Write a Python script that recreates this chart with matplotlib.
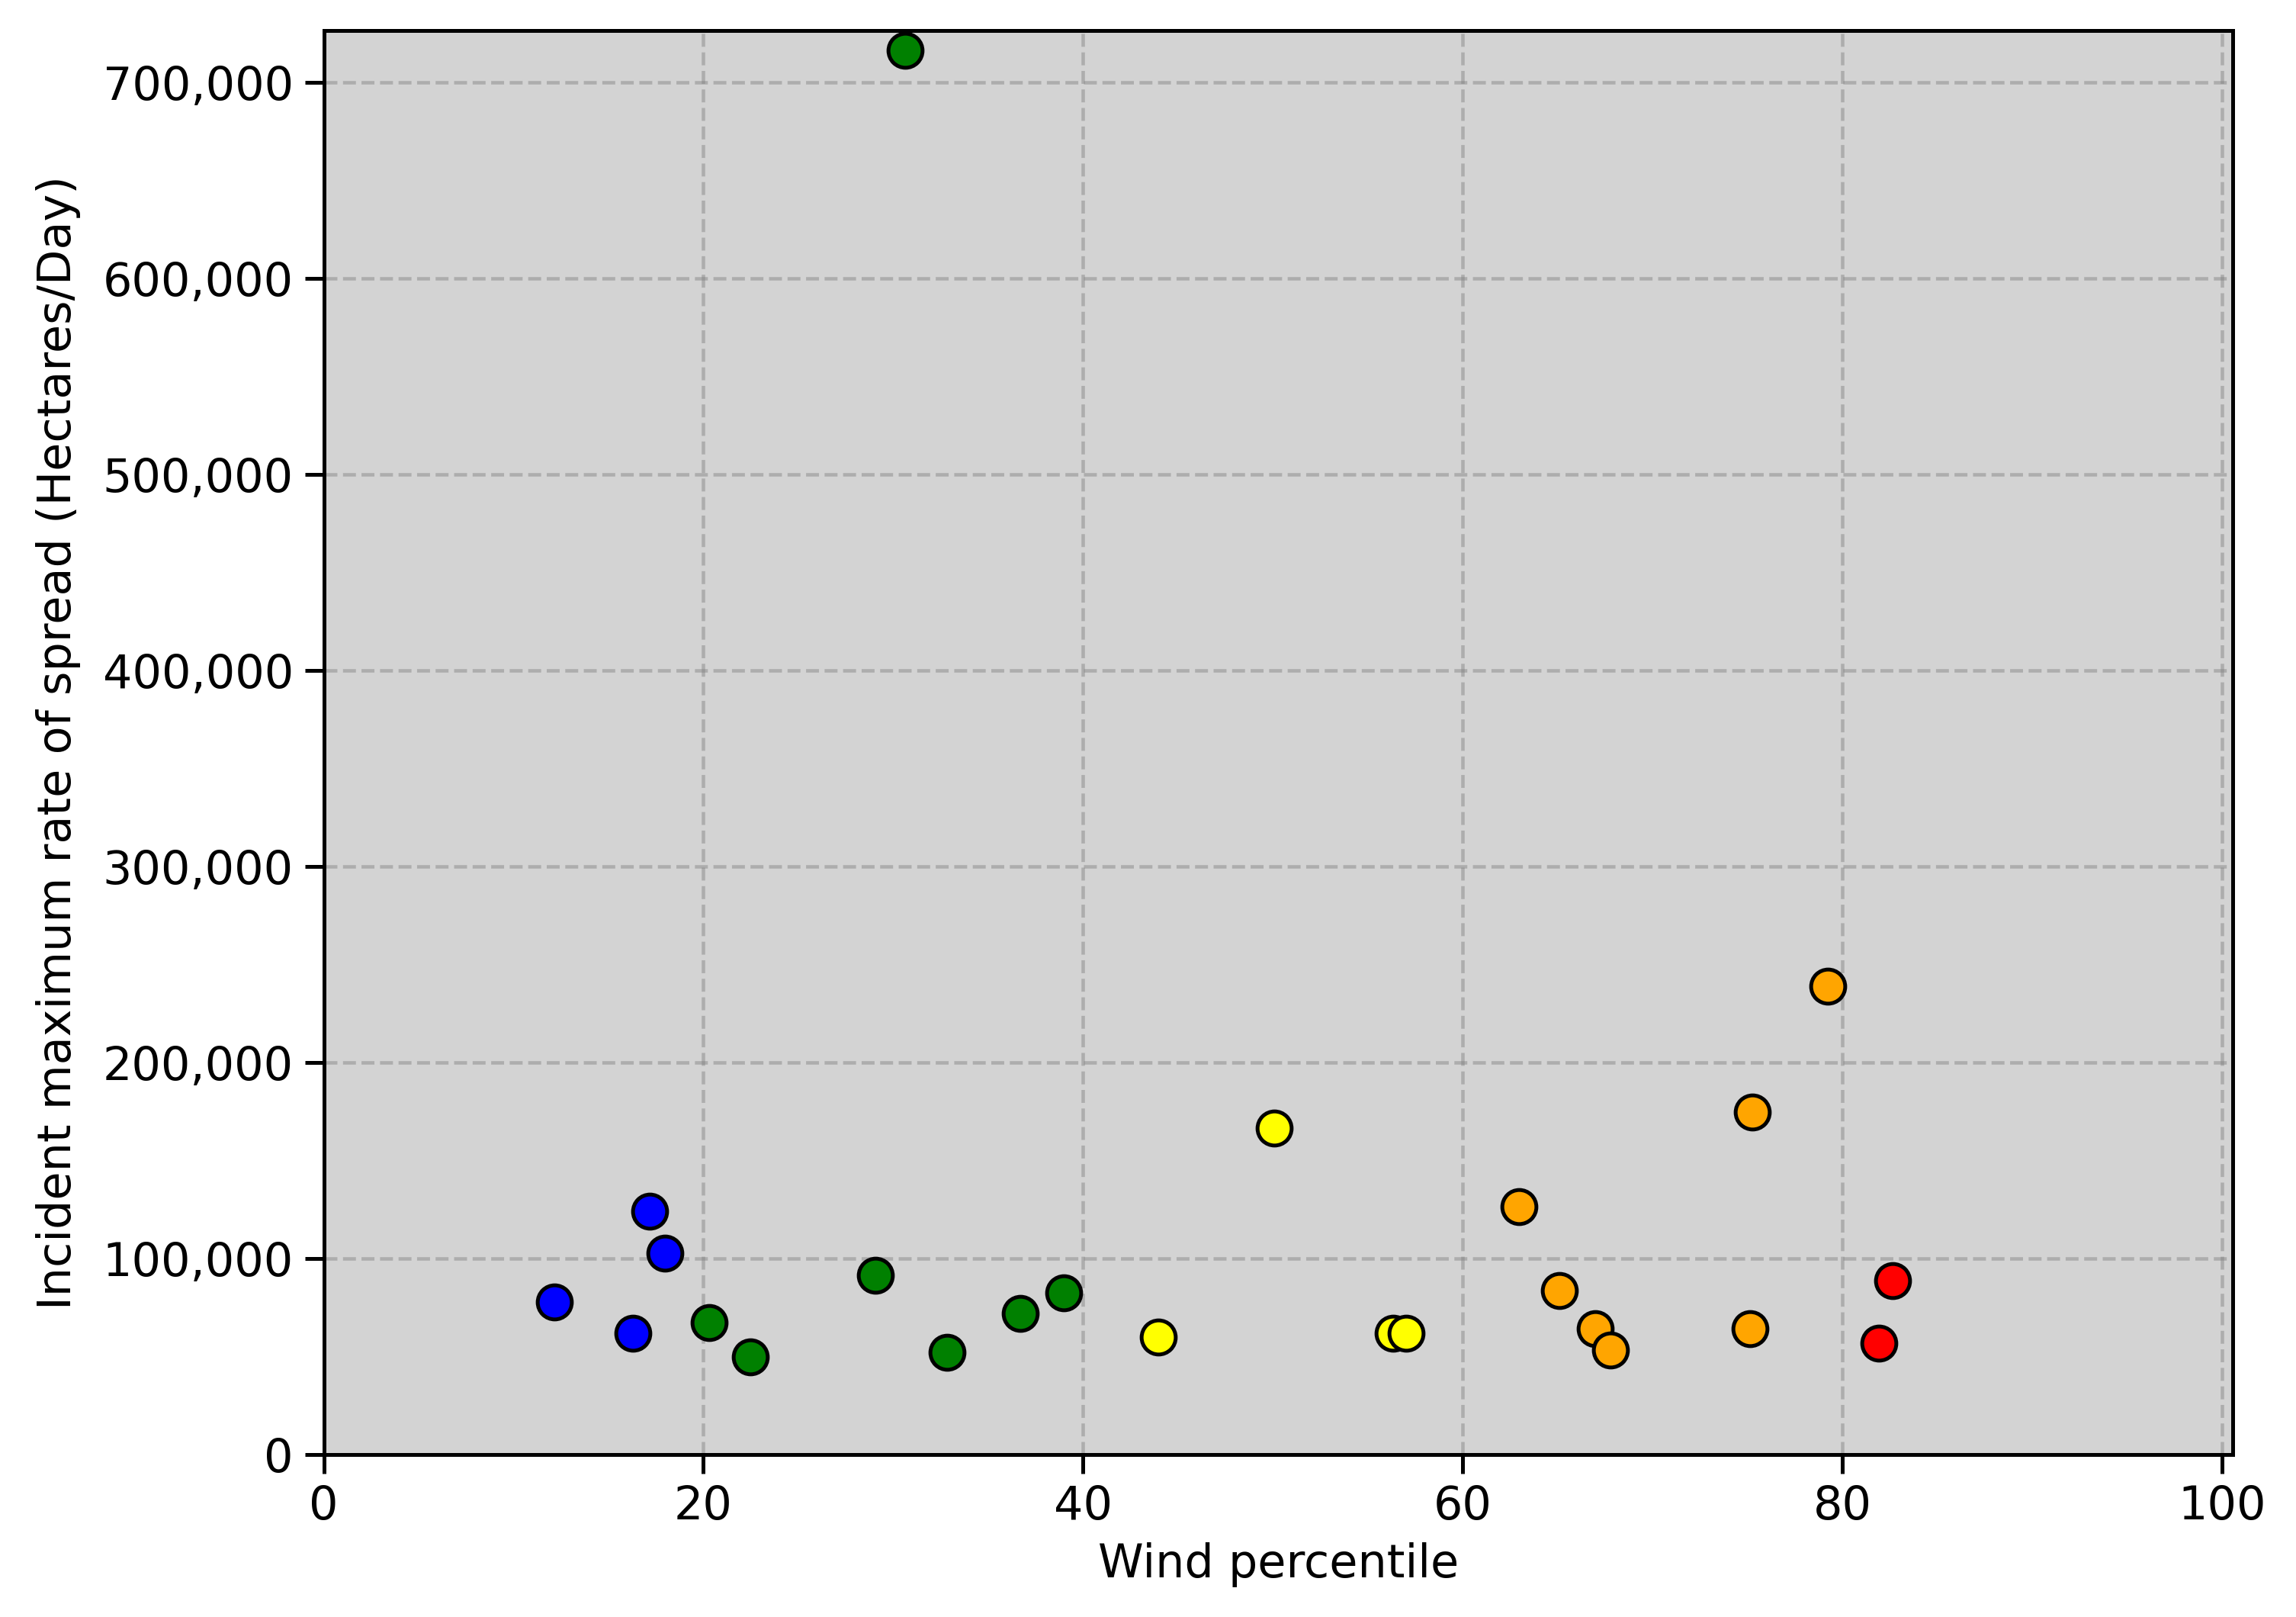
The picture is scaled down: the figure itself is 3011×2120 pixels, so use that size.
import numpy as np
import matplotlib
matplotlib.use('Agg')
import matplotlib.pyplot as plt
from matplotlib.ticker import FuncFormatter

# Вітер (перцентиль) і максимальна швидкість поширення (га/добу), по групах кольорів
blue_x = [12.15, 16.27, 17.17, 17.97]
blue_y = [77600, 61900, 123900, 102700]

green_x = [20.3, 22.49, 29.08, 30.62, 32.84, 36.69, 38.99]
green_y = [67100, 49700, 91400, 716500, 52000, 71900, 82300]

yellow_x = [43.95, 50.06, 56.33, 57.03]
yellow_y = [59700, 166500, 61900, 61900]

orange_x = [62.97, 65.1, 66.99, 67.8, 75.15, 75.27, 79.25]
orange_y = [126400, 83500, 64300, 53100, 64300, 174700, 239000]

red_x = [81.95, 82.65]
red_y = [56900, 88500]

groups = [
    (blue_x, blue_y, 'blue'),
    (green_x, green_y, 'green'),
    (yellow_x, yellow_y, 'yellow'),
    (orange_x, orange_y, 'orange'),
    (red_x, red_y, 'red'),
]

fig = plt.figure(figsize=(3011 / 300, 2120 / 300), dpi=300)
ax = fig.add_axes([0.141, 0.1006, 0.9724 - 0.141, 0.9811 - 0.1006])
ax.set_facecolor('lightgray')
ax.set_axisbelow(True)

for xs, ys, c in groups:
    ax.scatter(xs, ys, s=115, c=c, edgecolors='black', linewidths=1.2, zorder=3)

ax.set_xlim(0, 100.57)
ax.set_ylim(0, 726500)
ax.set_xticks([0, 20, 40, 60, 80, 100])
ax.set_yticks(np.arange(0, 700001, 100000))
ax.yaxis.set_major_formatter(FuncFormatter(lambda v, p: f'{int(v):,}'))

ax.grid(True, linestyle='--', color='gray', alpha=0.45, linewidth=1.1)

ax.tick_params(labelsize=14.5, width=1.2, length=6)
for sp in ax.spines.values():
    sp.set_linewidth(1.2)

ax.set_xlabel('Wind percentile', fontsize=14.5)
ax.set_ylabel('Incident maximum rate of spread (Hectares/Day)', fontsize=14.5, labelpad=7)

fig.savefig('out.png', dpi=300)
